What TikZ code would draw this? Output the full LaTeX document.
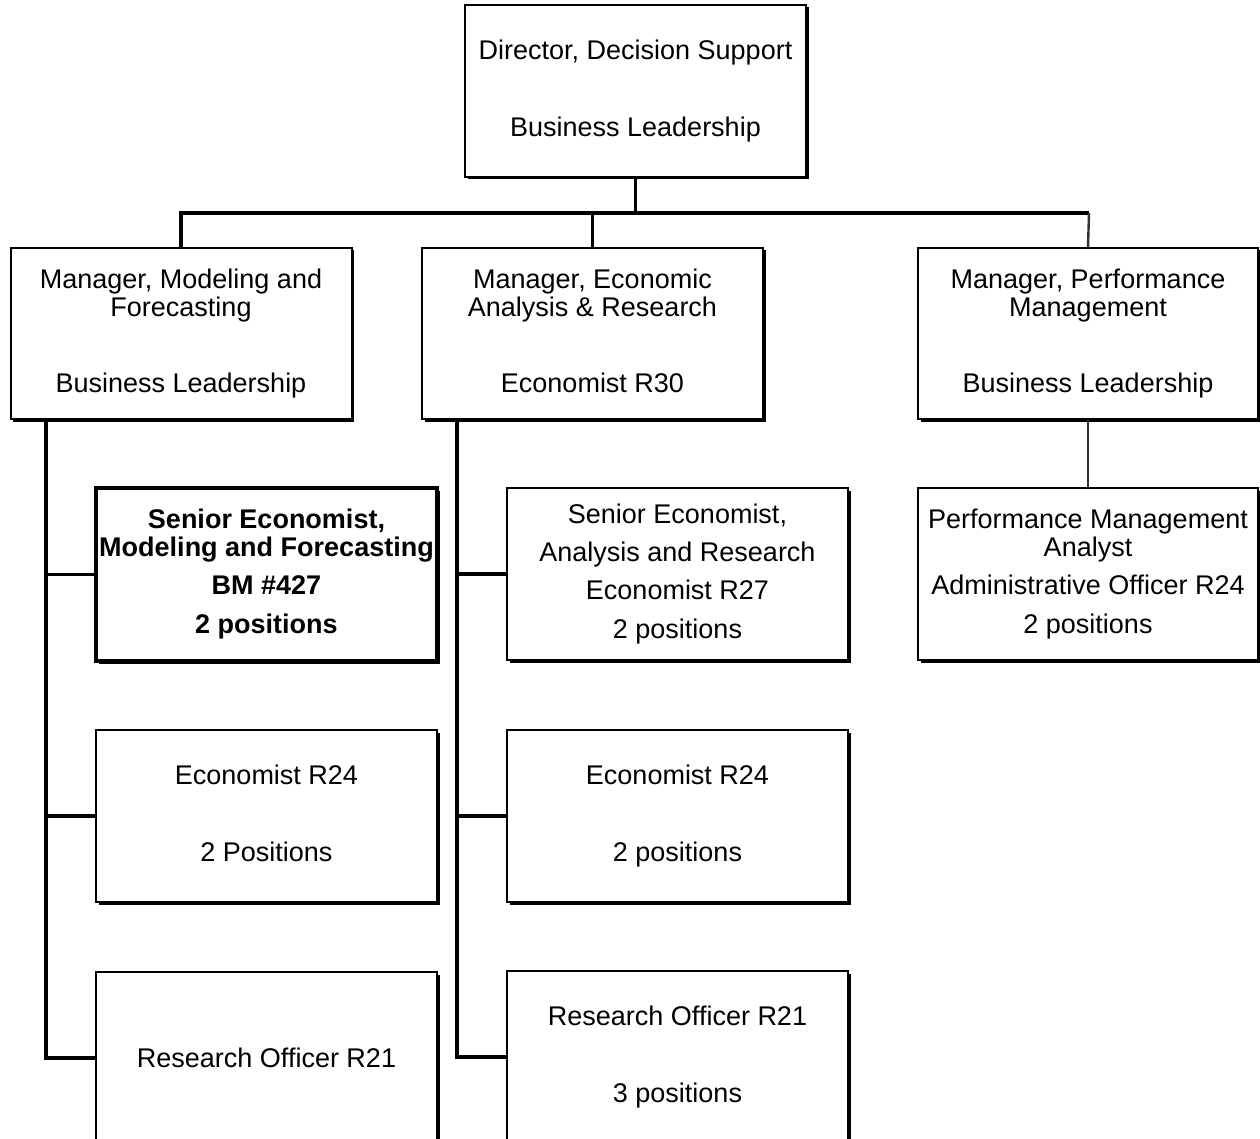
\documentclass[tikz,border=0pt]{standalone}
\usepackage{fontspec}
\setmainfont{Liberation Sans}
\usetikzlibrary{shadows}
\begin{document}
\begin{tikzpicture}[x=1pt,y=-1pt,
  box/.style={draw, line width=2pt, fill=white, rectangle, inner sep=0pt,
    minimum width=341pt, minimum height=172pt, align=center,
    font=\fontsize{27}{28}\selectfont,
    drop shadow={shadow xshift=2.5pt, shadow yshift=-2.5pt, opacity=1, fill=black}},
  boldbox/.style={box, line width=4pt, font=\fontsize{27}{28}\selectfont\bfseries},
  conn/.style={line width=3.2pt},
  thinconn/.style={line width=2.4pt, draw=black!80}
]
\useasboundingbox (0,0) rectangle (1260,1139);
\clip (0,0) rectangle (1260,1139);

% top
\node[box] (top) at (635.5,91) {Director, Decision Support\\[49pt]Business Leadership};

% managers
\node[box, minimum height=171pt] (m1) at (181,333.5) {Manager, Modeling and\\Forecasting\\[48pt]Business Leadership};
\node[box, minimum height=171pt] (m2) at (592.5,333.5) {Manager, Economic\\Analysis \& Research\\[48pt]Economist R30\vphantom{g}};
\node[box, minimum height=171pt, minimum width=340pt] (m3) at (1088,333.5) {Manager, Performance\\Management\\[48pt]Business Leadership};

% left column
\node[boldbox, minimum height=173pt] (c11) at (266.5,574.5) {Senior Economist,\\Modeling and Forecasting\\[10pt]BM \#427\\[11pt]2 positions};
\node[box] (c12) at (266.5,816) {Economist R24\\[49pt]2 Positions\vphantom{p}};
\node[box] (c13) at (266.5,1058) {Research Officer R21};

% middle column
\node[box] (c21) at (677.5,574) {Senior Economist,\\[10pt]Analysis and Research\\[10pt]Economist R27\\[11pt]2 positions};
\node[box] (c22) at (677.5,816) {Economist R24\\[49pt]2 positions};
\node[box] (c23) at (677.5,1057) {Research Officer R21\\[49pt]3 positions};

% right column
\node[box, minimum width=340pt] (c31) at (1088,574) {Performance Management\\Analyst\\[10pt]Administrative Officer R24\\[11pt]2 positions};

% top connectors
\coordinate (busL) at (181,213);
\coordinate (busR) at (1089,213);
\draw[conn] (m1.north) |- (busR);
\draw[conn] (top.south) -- (top.south |- busL);
\draw[conn] (m2.north) -- (m2.north |- busL);
\draw[thinconn] (busR) -- (m3.north);

% left trunk
\coordinate (tL) at (46,419);
\draw[conn] (tL) |- (c13.west);
\draw[conn] (c11.west) -- (c11.west -| tL);
\draw[conn] (c12.west) -- (c12.west -| tL);

% middle trunk
\coordinate (tM) at (457,419);
\draw[conn] (tM) |- (c23.west);
\draw[conn] (c21.west) -- (c21.west -| tM);
\draw[conn] (c22.west) -- (c22.west -| tM);

% right
\draw[thinconn] (m3.south) -- (c31.north);
\end{tikzpicture}
\end{document}
